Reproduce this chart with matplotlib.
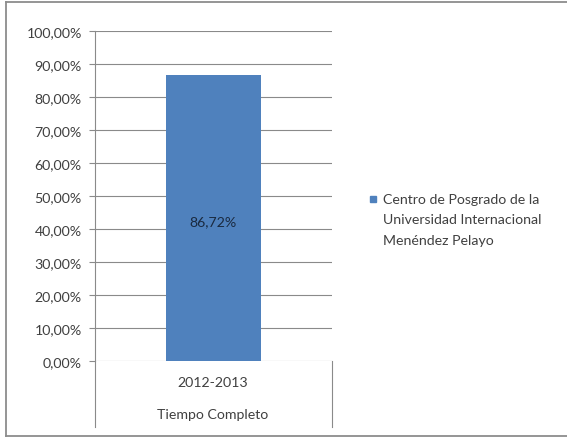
import matplotlib
matplotlib.use("Agg")
import matplotlib.pyplot as plt
from matplotlib.patches import Rectangle
from matplotlib.lines import Line2D

categories = ["2012-2013"]
group_label = "Tiempo Completo"
values = [86.72]
series_lines = ["Centro de Posgrado de la", "Universidad Internacional", "Menéndez Pelayo"]
yticks = [0, 10, 20, 30, 40, 50, 60, 70, 80, 90, 100]
ytick_labels = ["0,00%", "10,00%", "20,00%", "30,00%", "40,00%", "50,00%",
                "60,00%", "70,00%", "80,00%", "90,00%", "100,00%"]
data_labels = ["86,72%"]

plt.rcParams['font.family'] = ['Lato', 'DejaVu Sans']
W, H = 567, 439
fig = plt.figure(figsize=(W / 100, H / 100), dpi=100)
fig.patch.set_facecolor("white")

def fx(px):
    return px / W

def fy(py):
    return 1 - py / H

FS = 10.2

# outer frame (open on the right side)
frame_col = "#8c8c8c"
fig.add_artist(Line2D([fx(6), fx(6)], [fy(3), fy(437)], color=frame_col, lw=1.3))
fig.add_artist(Line2D([fx(6), 1.0], [fy(3), fy(3)], color=frame_col, lw=1.3))
fig.add_artist(Line2D([fx(6), 1.0], [fy(437), fy(437)], color=frame_col, lw=1.3))

left, right, top, bottom = 95, 332, 32, 362
ax = fig.add_axes([fx(left), fy(bottom), fx(right - left), (bottom - top) / H])
ax.set_xlim(-0.5, 0.5)
ax.set_ylim(0, 100)

text_col = "#404040"
grid_col = "#8a8a8a"

x = list(range(len(categories)))
ax.bar(x, values, width=0.397, color="#4F81BD", zorder=3)
for xi, v, lab in zip(x, values, data_labels):
    ax.text(xi, v / 2 - 1, lab, ha="center", va="center", fontsize=FS,
            color="#1a2a40", zorder=4)

ax.set_yticks(yticks)
ax.set_yticklabels(ytick_labels, fontsize=FS, color=text_col)
ax.tick_params(axis="y", length=4, color=grid_col, pad=5.5)
ax.set_xticks([])
ax.grid(axis="y", color=grid_col, lw=0.8, zorder=0)
for s in ["top", "right", "bottom"]:
    ax.spines[s].set_visible(False)
ax.spines["left"].set_color(grid_col)
ax.spines["left"].set_linewidth(0.8)

# multi-level category axis below
ax.plot([0, 0], [0, -(428 - 362) / (bottom - top)], transform=ax.transAxes,
        color=grid_col, lw=0.8, clip_on=False)
ax.plot([1, 1], [0, -(428 - 362) / (bottom - top)], transform=ax.transAxes,
        color=grid_col, lw=0.8, clip_on=False)
for xi, c in zip(x, categories):
    fig.text(fx(213), fy(383), c, ha="center", va="center", fontsize=FS, color=text_col)
fig.text(fx(213), fy(415), group_label, ha="center", va="center", fontsize=FS, color=text_col)

# legend
fig.add_artist(Rectangle((fx(370), fy(203)), fx(6), 6 / H, color="#4F81BD"))
for i, line in enumerate(series_lines):
    fig.text(fx(383), fy(200 + 20.5 * i), line, ha="left", va="center",
             fontsize=FS, color=text_col)

fig.savefig("out.png", dpi=100, facecolor="white")
